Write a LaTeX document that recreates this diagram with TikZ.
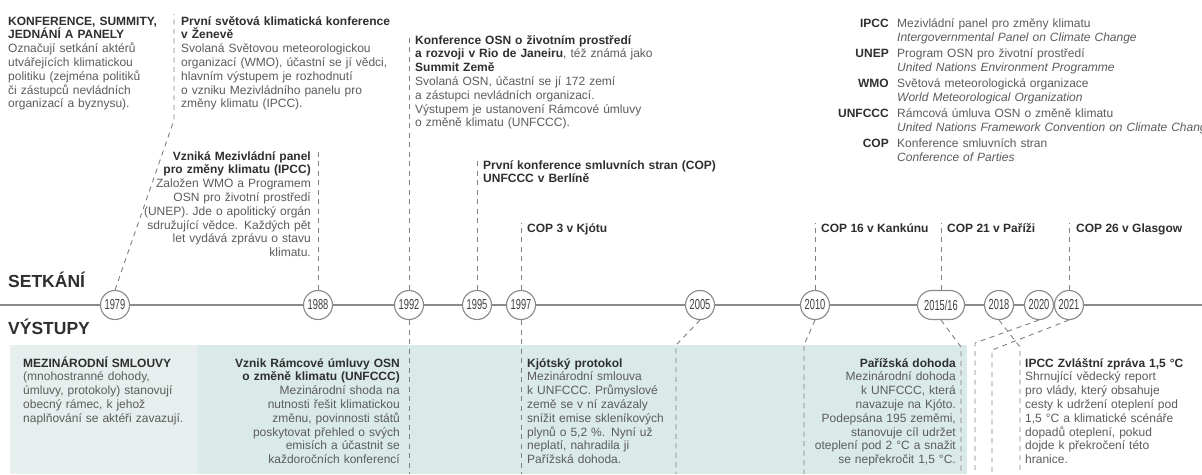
\documentclass[tikz,border=0pt]{standalone}
\usepackage{fontspec}
\setmainfont{Liberation Sans}
\newfontfamily\yearfont[FakeStretch=0.64]{Liberation Sans}
\definecolor{txt}{HTML}{5C5C5C}
\definecolor{ttl}{HTML}{2F2F2F}
\definecolor{yrtxt}{HTML}{404040}
\definecolor{lin}{HTML}{8A8A8A}
\definecolor{dsh}{HTML}{808080}
\definecolor{tealbg}{HTML}{D9EAE8}
\definecolor{lightbg}{HTML}{E6EFEE}
\newcommand{\tb}[1]{{\bfseries\color{ttl}#1}}
\newcommand{\bodysize}{\fontsize{12}{13.8}\selectfont}
\tikzset{
  yr/.style={circle, draw=lin, line width=1.1pt, fill=white, minimum size=29pt, inner sep=0pt, text=yrtxt, font=\yearfont\fontsize{14.5}{14.5}\selectfont},
  yrw/.style={rectangle, rounded corners=14.5pt, draw=lin, line width=1.1pt, fill=white, minimum width=47pt, minimum height=29pt, inner sep=0pt, text=yrtxt, font=\yearfont\fontsize{14.5}{14.5}\selectfont},
  conn/.style={draw=dsh, line width=0.9pt, dash pattern=on 5pt off 4.5pt},
  axis/.style={draw=lin, line width=1.2pt},
  blk/.style={anchor=base west, align=left, inner sep=0pt, text width=#1, font=\bodysize, text=txt},
  blkr/.style={anchor=base east, align=right, inner sep=0pt, text width=#1, font=\bodysize, text=txt},
  cop/.style={anchor=base west, inner sep=0pt, font=\bodysize\bfseries, text=ttl},
  head/.style={anchor=base west, inner sep=0pt, font=\fontsize{17.5}{17.5}\selectfont\bfseries, text=ttl},
  abbr/.style={anchor=base east, inner sep=0pt, font=\bodysize\bfseries, text=ttl},
  legd/.style={anchor=base west, align=left, inner sep=0pt, text width=330pt, font=\fontsize{12}{14.5}\selectfont, text=txt},
}
\begin{document}
\begin{tikzpicture}[x=1pt,y=-1pt]
\useasboundingbox (0,0) rectangle (1202,474);
\fill[white] (0,0) rectangle (1202,474);
% output bands
\fill[lightbg] (10,345) rectangle (198,474);
\fill[tealbg] (198,345) rectangle (967,474);
% axis
\coordinate (axL) at (0,305);
\coordinate (axR) at (1202,305);
\draw[axis] (axL) -- (axR);
% years
\node[yr] (y1979) at (115,305) {1979};
\node[yr] (y1988) at (318,305) {1988};
\node[yr] (y1992) at (409,305) {1992};
\node[yr] (y1995) at (477,305) {1995};
\node[yr] (y1997) at (521,305) {1997};
\node[yr] (y2005) at (700,305) {2005};
\node[yr] (y2010) at (815,305) {2010};
\node[yrw] (y2015) at (941,305) {2015/16};
\node[yr] (y2018) at (999,305) {2018};
\node[yr] (y2020) at (1039,305) {2020};
\node[yr] (y2021) at (1069,305) {2021};
% connector end points
\coordinate (g1) at (174,120); \coordinate (g0) at (174,14);
\coordinate (t1988) at (318,150);
\coordinate (t1992) at (409,34); \coordinate (b1992) at (409,474);
\coordinate (t1995) at (477,160);
\coordinate (t1997) at (521,223); \coordinate (b1997) at (521,474);
\coordinate (k2005) at (676,345); \coordinate (b2005) at (676,474);
\coordinate (t2010) at (815,223); \coordinate (k2010) at (804,345); \coordinate (b2010) at (804,474);
\coordinate (t2015) at (941,223); \coordinate (k2015) at (961,347); \coordinate (b2015) at (961,474);
\coordinate (k2018) at (1020,347); \coordinate (b2018) at (1020,474);
\coordinate (k2020) at (975,343); \coordinate (b2020) at (975,474);
\coordinate (t2021) at (1069,223); \coordinate (k2021) at (992,350); \coordinate (b2021) at (992,474);
% connectors
\draw[conn] (y1979.north) -- (g1) -- (g0);
\draw[conn] (y1988.north) -- (t1988);
\draw[conn] (y1992.north) -- (t1992);
\draw[conn] (y1992.south) -- (b1992);
\draw[conn] (y1995.north) -- (t1995);
\draw[conn] (y1997.north) -- (t1997);
\draw[conn] (y1997.south) -- (b1997);
\draw[conn] (y2005.south) -- (k2005) -- (b2005);
\draw[conn] (y2010.north) -- (t2010);
\draw[conn] (y2010.south) -- (k2010) -- (b2010);
\draw[conn] (y2015.north) -- (t2015);
\draw[conn] (y2015.south) -- (k2015) -- (b2015);
\draw[conn] (y2018.south) -- (k2018) -- (b2018);
\draw[conn] (y2020.south) -- (k2020) -- (b2020);
\draw[conn] (y2021.north) -- (t2021);
\draw[conn] (y2021.south) -- (k2021) -- (b2021);
% headings
\node[head] (hSet) at (8,287) {SETKÁNÍ};
\node[head] (hVys) at (8,334) {VÝSTUPY};
% top blocks
\node[blk=175pt] (bA) at (8,25) {\tb{KONFERENCE, SUMMITY,}\\\tb{JEDNÁNÍ A PANELY}\\Označují setkání aktérů\\utvářejících klimatickou\\politiku (zejména politiků\\či zástupců nevládních\\organizací a byznysu).};
\node[blk=225pt] (bB) at (181,25) {\tb{První světová klimatická konference}\\\tb{v Ženevě}\\Svolaná Světovou meteorologickou\\organizací (WMO), účastní se jí vědci,\\hlavním výstupem je rozhodnutí\\o vzniku Mezivládního panelu pro\\změny klimatu (IPCC).};
\node[blk=240pt] (bC) at (415,44) {\tb{Konference OSN o životním prostředí}\\\tb{a rozvoji v Rio de Janeiru}, též známá jako\\\tb{Summit Země}\\Svolaná OSN, účastní se jí 172 zemí\\a zástupci nevládních organizací.\\Výstupem je ustanovení Rámcové úmluvy\\o změně klimatu (UNFCCC).};
\node[blkr=180pt] (bD) at (311,160) {\tb{Vzniká Mezivládní panel}\\\tb{pro změny klimatu (IPCC)}\\Založen WMO a Programem\\OSN pro životní prostředí\\(UNEP). Jde o apolitický orgán\\sdružující vědce. Každých pět\\let vydává zprávu o stavu\\klimatu.};
\node[blk=260pt] (bE) at (483,169) {\tb{První konference smluvních stran (COP)}\\\tb{UNFCCC v Berlíně}};
\node[cop] (c3) at (527,232) {COP 3 v Kjótu};
\node[cop] (c16) at (821,232) {COP 16 v Kankúnu};
\node[cop] (c21) at (947,232) {COP 21 v Paříži};
\node[cop] (c26) at (1076,232) {COP 26 v Glasgow};
% legend
\node[abbr] (aIPCC) at (889,27) {IPCC};
\node[legd] (dIPCC) at (897,27) {Mezivládní panel pro změny klimatu\\\textit{Intergovernmental Panel on Climate Change}};
\node[abbr] (aUNEP) at (889,57) {UNEP};
\node[legd] (dUNEP) at (897,57) {Program OSN pro životní prostředí\\\textit{United Nations Environment Programme}};
\node[abbr] (aWMO) at (889,87) {WMO};
\node[legd] (dWMO) at (897,87) {Světová meteorologická organizace\\\textit{World Meteorological Organization}};
\node[abbr] (aUNF) at (889,117) {UNFCCC};
\node[legd] (dUNF) at (897,117) {Rámcová úmluva OSN o změně klimatu\\\textit{United Nations Framework Convention on Climate Change}};
\node[abbr] (aCOP) at (889,147) {COP};
\node[legd] (dCOP) at (897,147) {Konference smluvních stran\\\textit{Conference of Parties}};
% bottom blocks
\node[blk=175pt] (bF) at (23,367) {\tb{MEZINÁRODNÍ SMLOUVY}\\(mnohostranné dohody,\\úmluvy, protokoly) stanovují\\obecný rámec, k jehož\\naplňování se aktéři zavazují.};
\node[blkr=190pt] (bG) at (400,367) {\tb{Vznik Rámcové úmluvy OSN}\\\tb{o změně klimatu (UNFCCC)}\\Mezinárodní shoda na\\nutnosti řešit klimatickou\\změnu, povinnosti států\\poskytovat přehled o svých\\emisích a účastnit se\\každoročních konferencí};
\node[blk=150pt] (bH) at (527,367) {\tb{Kjótský protokol}\\Mezinárodní smlouva\\k UNFCCC. Průmyslové\\země se v ní zavázaly\\snížit emise skleníkových\\plynů o 5,2 \%. Nyní už\\neplatí, nahradila ji\\Pařížská dohoda.};
\node[blkr=160pt] (bI) at (956,367) {\tb{Pařížská dohoda}\\Mezinárodní dohoda\\k UNFCCC, která\\navazuje na Kjóto.\\Podepsána 195 zeměmi,\\stanovuje cíl udržet\\oteplení pod 2 °C a snažit\\se nepřekročit 1,5 °C.};
\node[blk=175pt] (bJ) at (1025,367) {\tb{IPCC Zvláštní zpráva 1,5 °C}\\Shrnující vědecký report\\pro vlády, který obsahuje\\cesty k udržení oteplení pod\\1,5 °C a klimatické scénáře\\dopadů oteplení, pokud\\dojde k překročení této\\hranice.};
\end{tikzpicture}
\end{document}
